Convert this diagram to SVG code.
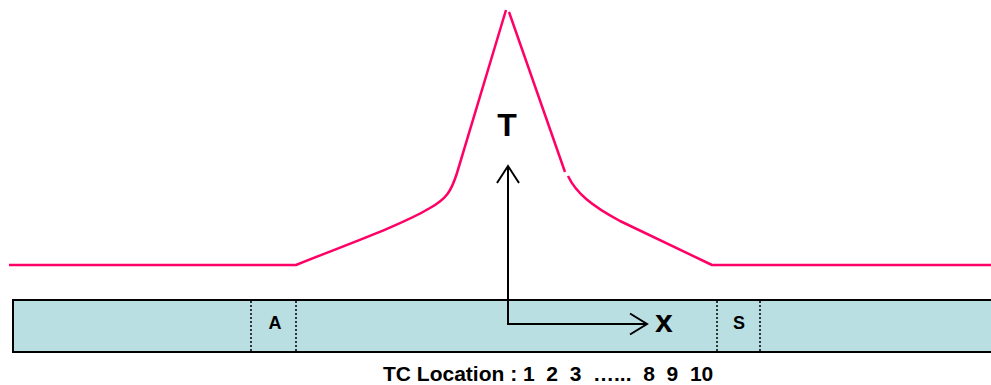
<svg xmlns="http://www.w3.org/2000/svg" width="991" height="385" viewBox="0 0 991 385">
  <style>
    .curve { fill: none; stroke: #FF0066; stroke-width: 2.5; stroke-linejoin: round; }
    .axis { fill: none; stroke: #000; stroke-width: 2; }
    .dot { stroke: #000; stroke-width: 1.5; stroke-dasharray: 2 2; }
    .lbl { font-family: "Liberation Sans", Arial, sans-serif; font-weight: bold; fill: #000; }
  </style>
  <rect width="991" height="385" fill="#fff"/>
  <g id="bar">
    <rect x="13" y="300" width="990" height="52" fill="#BADFE3" stroke="#000" stroke-width="2"/>
    <line class="dot" x1="251" y1="301" x2="251" y2="351"/>
    <line class="dot" x1="296" y1="301" x2="296" y2="351"/>
    <line class="dot" x1="717" y1="301" x2="717" y2="351"/>
    <line class="dot" x1="760" y1="301" x2="760" y2="351"/>
  </g>
  <g id="label-A"><text class="lbl" x="275" y="329" font-size="18" text-anchor="middle">A</text></g>
  <g id="label-S"><text class="lbl" x="739" y="329" font-size="18" text-anchor="middle">S</text></g>
  <g id="curve">
    <path class="curve" d="M9,265 H296 C340,247 400,226 430,208 C446,199 451,192 457,173 L506,10"/>
    <path class="curve" d="M509,12 L565,172"/>
    <path class="curve" d="M568,176 C576,193 592,206 620,221 L712,265 H991"/>
  </g>
  <g id="connectors">
    <path class="axis" d="M508,325 V166"/>
    <path class="axis" d="M497,183 L508,166 L519,183"/>
    <path class="axis" d="M508,324 H646"/>
    <path class="axis" d="M630,313.5 L647,324 L630,334.5"/>
  </g>
  <g id="label-T"><text class="lbl" x="507" y="136" font-size="32" text-anchor="middle">T</text></g>
  <g id="label-x"><text class="lbl" x="655" y="332" font-size="32">x</text></g>
  <g id="caption"><text class="lbl" x="383" y="381" font-size="21" xml:space="preserve">TC Location : 1  2  3  …...  8  9  10</text></g>
</svg>
